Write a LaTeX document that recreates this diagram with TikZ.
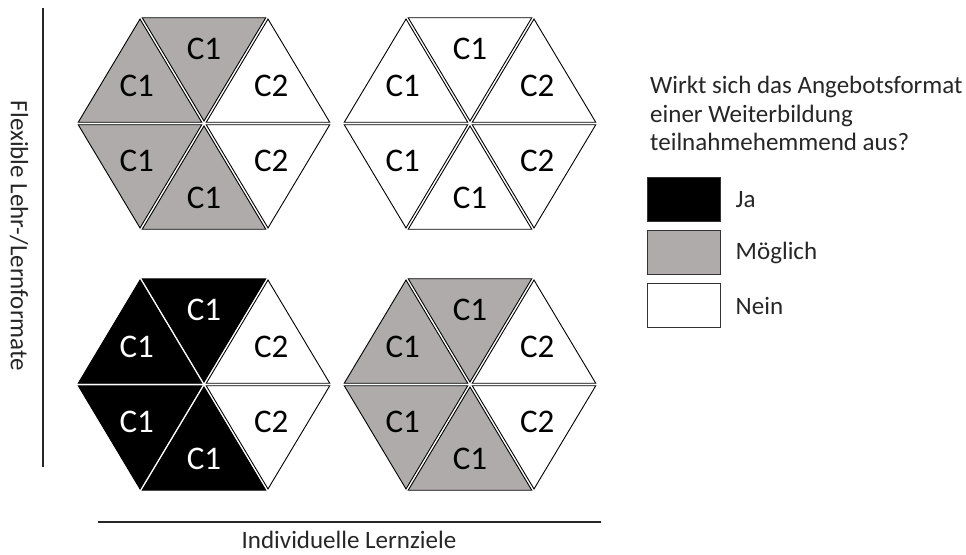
\documentclass[tikz,border=0pt]{standalone}
\usepackage{fontspec}
\setmainfont{Carlito}
\usetikzlibrary{calc, positioning}
\definecolor{maybegray}{RGB}{174,171,170}
\tikzstyle{tri} = [draw=black, line width=0.9pt, line join=miter]
\tikzstyle{lbl} = [inner sep=0pt, font=\fontsize{33}{33}\selectfont]
\tikzstyle{txt} = [inner sep=0pt, text=black!85, font=\fontsize{25}{28.5}\selectfont]
\tikzstyle{legbox} = [rectangle, minimum width=73pt, minimum height=44pt, draw=black!80, line width=1pt]
\tikzstyle{axis} = [line width=2pt, draw=black!85]
% one hexagon: name, centre x, centre y, fill of the C1 part, text colour of C1
\newcommand{\hexa}[5]{%
  \begin{scope}[shift={(#2,#3)}]
    \foreach \a/\f/\c/\t in {60/#4/#5/C1, 120/#4/#5/C1, 180/#4/#5/C1, 240/#4/#5/C1, 300/white/black/C2, 0/white/black/C2} {
      \coordinate (g) at ($1/3*(\a:128 and 123.5)+1/3*(\a+60:128 and 123.5)$);
      \draw [tri, fill=\f] ($(g)!0.965!(0,0)$) -- ($(g)!0.965!(\a:128 and 123.5)$) -- ($(g)!0.965!(\a+60:128 and 123.5)$) -- cycle;
      \node (#1-\a) [lbl, text=\c] at ($(0,0)!1.05!(g)$) {\t};
    }
  \end{scope}}

\begin{document}
\begin{tikzpicture}[x=1pt, y=-1pt]
    \useasboundingbox (0,0) rectangle (966,554);
    \hexa{tl}{204}{123.5}{maybegray}{black}
    \hexa{tr}{470}{123.5}{white}{black}
    \hexa{bl}{204}{384.5}{black}{white}
    \hexa{br}{470}{384.5}{maybegray}{black}
    % axes
    \coordinate (ytop) at (43,8);
    \coordinate (ybot) at (43,467);
    \coordinate (xleft) at (98,522);
    \coordinate (xright) at (601,522);
    \draw [axis] (ytop) -- (ybot);
    \draw [axis] (xleft) -- (xright);
    \node (ylabel) [txt, rotate=-90] at (19,236) {Flexible Lehr-/Lernformate};
    \node (xlabel) [txt, anchor=base] at (349,548) {Individuelle Lernziele};
    % legend
    \node (question) [txt, anchor=north west, align=left] at (650,76) {Wirkt sich das Angebotsformat\\einer Weiterbildung\\teilnahmehemmend aus?};
    \node (ja) [legbox, fill=black] at (683.5,199.5) {};
    \node (maybe) [legbox, fill=maybegray] at (683.5,252.5) {};
    \node (nein) [legbox, fill=white] at (683.5,305.5) {};
    \node (jatext) [txt, right=15pt of ja] {Ja};
    \node (maybetext) [txt, right=15pt of maybe] {Möglich};
    \node (neintext) [txt, right=15pt of nein] {Nein};
\end{tikzpicture}
\end{document}
